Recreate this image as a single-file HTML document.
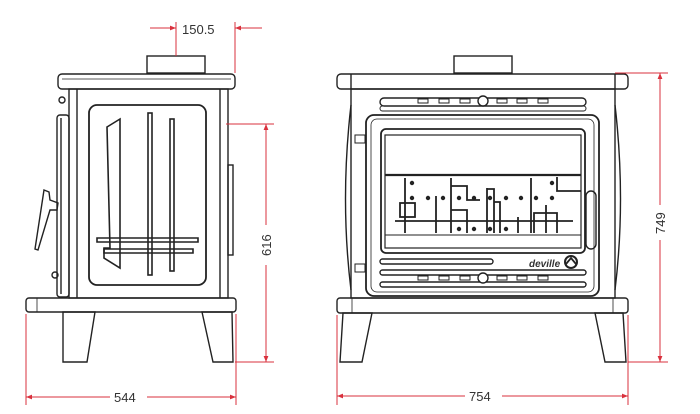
<!DOCTYPE html>
<html><head><style>html,body{margin:0;padding:0;background:#fff}svg{display:block}text{font-family:"Liberation Sans",sans-serif;fill:#333}</style></head><body>
<svg width="700" height="414" viewBox="0 0 700 414" xmlns="http://www.w3.org/2000/svg">
<defs>
<marker id="a" viewBox="0 0 10 10" refX="10" refY="5" markerWidth="8" markerHeight="6" orient="auto-start-reverse"><path d="M0,1 L10,5 L0,9 z" fill="#d9313d"/></marker>
</defs>
<g fill="none" stroke="#222" stroke-width="1.4">
<!-- SIDE VIEW -->
<rect x="147" y="56" width="58" height="17"/>
<rect x="58" y="74" width="177" height="15" rx="4"/>
<line x1="62" y1="79" x2="231" y2="79" stroke-width="0.8"/>
<rect x="69" y="89" width="159" height="209"/>
<line x1="77" y1="89" x2="77" y2="298"/><line x1="220" y1="89" x2="220" y2="298"/>
<rect x="89" y="105" width="117" height="180" rx="8" stroke-width="1.8"/>
<path d="M107,127 L120,119 L120,268 L104,258 L104,248 L110,248 Z" stroke-width="1.6"/>
<rect x="148" y="113" width="4" height="162" stroke-width="1.6"/>
<rect x="170" y="119" width="4" height="152" stroke-width="1.6"/>
<path d="M97,238 H198 V242 H97 Z M104,249 H193 V253 H104 Z" stroke-width="1.6"/>
<rect x="57" y="115" width="12" height="182" rx="3"/>
<line x1="61" y1="118" x2="61" y2="294"/>
<circle cx="62" cy="100" r="3"/><circle cx="55" cy="275" r="3"/>
<path d="M44,190 L49,192 L50,200 L58,203 L57,210 L50,210 L38,250 L35,249 Z"/>
<rect x="26" y="298" width="210" height="14" rx="3"/>
<line x1="37" y1="298" x2="37" y2="312" stroke-width="0.8"/>
<path d="M63,312 L95,312 L87,362 L63,362 Z"/>
<path d="M202,312 L232,312 L233,362 L213,362 Z"/>
<rect x="228" y="165" width="5" height="90"/>
<!-- FRONT VIEW -->
<rect x="454" y="56" width="58" height="17"/>
<rect x="337" y="74" width="291" height="15" rx="4"/>
<line x1="351" y1="74" x2="351" y2="89"/><line x1="615" y1="74" x2="615" y2="89"/>
<rect x="351" y="89" width="264" height="209"/>
<path d="M351,105 Q340,200 351,290 M615,105 Q626,200 615,290"/>
<rect x="380" y="98" width="206" height="8" rx="4"/>
<rect x="380" y="106" width="206" height="5" rx="2.5" stroke-width="1"/>
<circle cx="483" cy="101" r="5" fill="#fff"/>
<g stroke-width="1"><rect x="418" y="99" width="10" height="4"/><rect x="439" y="99" width="10" height="4"/><rect x="460" y="99" width="10" height="4"/><rect x="497" y="99" width="10" height="4"/><rect x="517" y="99" width="10" height="4"/><rect x="538" y="99" width="10" height="4"/>
<rect x="418" y="276" width="10" height="4"/><rect x="439" y="276" width="10" height="4"/><rect x="460" y="276" width="10" height="4"/><rect x="497" y="276" width="10" height="4"/><rect x="517" y="276" width="10" height="4"/><rect x="538" y="276" width="10" height="4"/></g>
<rect x="366" y="115" width="233" height="181" rx="8" stroke-width="1.8"/>
<rect x="371" y="119" width="223" height="173" rx="6" stroke-width="0.8"/>
<rect x="381" y="129" width="204" height="124" rx="5" stroke-width="1.8"/>
<rect x="385" y="135" width="196" height="113" stroke-width="1.2"/>
<line x1="385" y1="175" x2="581" y2="175" stroke-width="2.2"/>
<line x1="385" y1="235" x2="581" y2="235" stroke-width="1"/>
<g stroke-width="1.8">
<line x1="395" y1="221" x2="573" y2="221"/>
<line x1="405" y1="178" x2="405" y2="233"/><line x1="436" y1="196" x2="436" y2="233"/><line x1="451" y1="178" x2="451" y2="233"/>
<path d="M451,186 H467 V200 H480 M451,210 H467 V233 M487,188 V233 M487,189 H494 V233 M494,202 H500 V233 M518,217 V233"/>
<line x1="531" y1="178" x2="531" y2="233"/><line x1="546" y1="205" x2="546" y2="233"/>
<path d="M534,233 V213 H557 V233"/><path d="M557,177 V191 H581"/>
<rect x="400" y="203" width="15" height="14"/>
</g>
<g fill="#222" stroke="none">
<circle cx="412" cy="183" r="2.2"/><circle cx="552" cy="183" r="2.2"/>
<circle cx="412" cy="198" r="2.2"/><circle cx="428" cy="198" r="2.2"/><circle cx="443" cy="198" r="2.2"/><circle cx="459" cy="198" r="2.2"/><circle cx="474" cy="198" r="2.2"/><circle cx="490" cy="198" r="2.2"/><circle cx="506" cy="198" r="2.2"/><circle cx="521" cy="198" r="2.2"/><circle cx="536" cy="198" r="2.2"/><circle cx="552" cy="198" r="2.2"/>
<circle cx="459" cy="229" r="2.2"/><circle cx="474" cy="229" r="2.2"/><circle cx="490" cy="229" r="2.2"/><circle cx="506" cy="229" r="2.2"/>
</g>
<rect x="586" y="191" width="10" height="58" rx="5"/>
<rect x="355" y="135" width="10" height="8" stroke-width="1"/>
<rect x="355" y="264" width="10" height="8" stroke-width="1"/>
<rect x="380" y="259" width="113" height="5" rx="2.5"/>
<rect x="380" y="270" width="206" height="5" rx="2.5"/>
<rect x="380" y="282" width="206" height="5" rx="2.5"/>
<circle cx="483" cy="278" r="5" fill="#fff"/>
<circle cx="571" cy="262" r="6" stroke-width="2"/>
<path d="M566,264 L571,258 L576,264" stroke-width="1.8"/>
<rect x="337" y="298" width="291" height="15" rx="3"/>
<line x1="352" y1="298" x2="352" y2="313" stroke-width="0.8"/><line x1="613" y1="298" x2="613" y2="313" stroke-width="0.8"/>
<path d="M343,313 L372,313 L362,362 L340,362 Z"/>
<path d="M595,313 L623,313 L626,362 L605,362 Z"/>
</g>
<text x="529" y="267" font-size="10" font-weight="bold" font-style="italic" font-family="Liberation Serif,serif" fill="#222">deville</text>
<!-- DIMENSIONS -->
<g stroke="#d9313d" stroke-width="1" fill="none">
<line x1="176" y1="22" x2="176" y2="56"/><line x1="235" y1="22" x2="235" y2="73"/>
<line x1="150" y1="28" x2="176" y2="28" marker-end="url(#a)"/>
<line x1="262" y1="28" x2="235" y2="28" marker-end="url(#a)"/>
<line x1="226" y1="124" x2="274" y2="124"/><line x1="235" y1="362" x2="274" y2="362"/>
<line x1="266" y1="124" x2="266" y2="225" marker-start="url(#a)"/>
<line x1="266" y1="265" x2="266" y2="362" marker-end="url(#a)"/>
<line x1="26" y1="314" x2="26" y2="405"/><line x1="236" y1="314" x2="236" y2="405"/>
<line x1="26" y1="397" x2="110" y2="397" marker-start="url(#a)"/>
<line x1="147" y1="397" x2="236" y2="397" marker-end="url(#a)"/>
<line x1="615" y1="73" x2="668" y2="73"/><line x1="628" y1="362" x2="668" y2="362"/>
<line x1="660" y1="73" x2="660" y2="205" marker-start="url(#a)"/>
<line x1="660" y1="240" x2="660" y2="362" marker-end="url(#a)"/>
<line x1="337" y1="315" x2="337" y2="405"/><line x1="628" y1="315" x2="628" y2="405"/>
<line x1="337" y1="396" x2="465" y2="396" marker-start="url(#a)"/>
<line x1="502" y1="396" x2="628" y2="396" marker-end="url(#a)"/>
</g>
<text x="182" y="34" font-size="13">150.5</text>
<text x="114" y="402" font-size="13">544</text>
<text x="469" y="401" font-size="13">754</text>
<text x="0" y="0" font-size="13" transform="translate(271,256) rotate(-90)">616</text>
<text x="0" y="0" font-size="13" transform="translate(665,234) rotate(-90)">749</text>
</svg>
</body></html>
